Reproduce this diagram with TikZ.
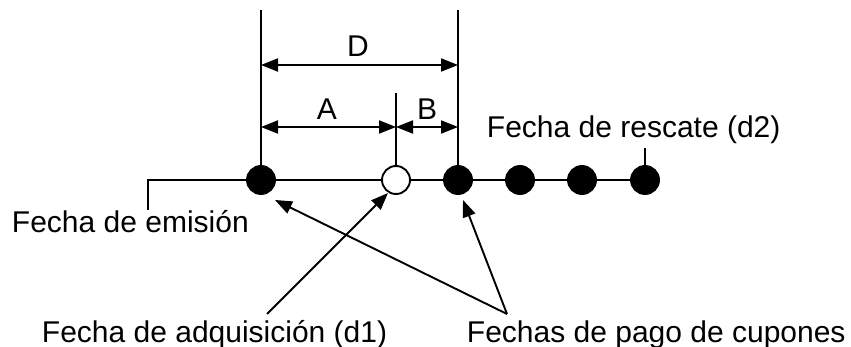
\documentclass[tikz,border=0pt]{standalone}
\usepackage{fontspec}
\setmainfont{Liberation Sans}
\usetikzlibrary{arrows.meta}
\begin{document}
\begin{tikzpicture}[x=1pt,y=-1pt,line width=1.9pt,
  dot/.style={circle,draw,fill=black,minimum size=28pt,inner sep=0pt},
  odot/.style={circle,draw,fill=white,minimum size=28pt,inner sep=0pt},
  lbl/.style={font=\fontsize{30}{34}\selectfont,inner sep=0pt,anchor=base west},
  dim/.style={{Triangle[length=17pt,width=13pt]}-{Triangle[length=17pt,width=13pt]}},
  ptr/.style={-{Triangle[length=17pt,width=13pt]}}]
\useasboundingbox (0,0) rectangle (851,347);
% positions
\coordinate (s0) at (148,210);
\coordinate (s1) at (148,180);
\node[dot] (p1) at (261,180) {};
\node[odot] (q) at (396,180) {};
\node[dot] (p2) at (458,180) {};
\node[dot] (p3) at (520,180) {};
\node[dot] (p4) at (582,180) {};
\node[dot] (p5) at (645,180) {};
% timeline
\draw (s0) -- (s1) -- (p1) -- (q) -- (p2) -- (p3) -- (p4) -- (p5);
% extension lines
\coordinate (t1) at (261,10);
\coordinate (t2) at (458,10);
\coordinate (tq) at (396,93);
\coordinate (t5) at (645,148);
\draw (p1.north) -- (t1);
\draw (p2.north) -- (t2);
\draw (q.north) -- (tq);
\draw (p5.north) -- (t5);
% dimensions
\coordinate (d1) at (261,65);
\coordinate (d2) at (458,65);
\coordinate (a1) at (261,127);
\coordinate (a2) at (396,127);
\coordinate (b2) at (458,127);
\draw[dim] (d1) -- (d2);
\draw[dim] (a1) -- (a2);
\draw[dim] (a2) -- (b2);
\node[lbl,anchor=base] (D) at (358,57) {D};
\node[lbl,anchor=base] (A) at (327,120) {A};
\node[lbl,anchor=base] (B) at (427,120) {B};
% labels
\node[lbl] (em) at (11,233) {Fecha de emisión};
\node[lbl] (res) at (486,138) {Fecha de rescate (d2)};
\node[lbl] (adq) at (41,342) {Fecha de adquisición (d1)};
\node[lbl] (pag) at (466,342) {Fechas de pago de cupones};
% pointers
\coordinate (adqt) at (267,314);
\coordinate (pagt) at (507,314);
\coordinate (qtip) at (388,193);
\coordinate (p1tip) at (275,200);
\coordinate (p2tip) at (463,200);
\draw[ptr] (adqt) -- (qtip);
\draw[ptr] (pagt) -- (p1tip);
\draw[ptr] (pagt) -- (p2tip);
\end{tikzpicture}
\end{document}
